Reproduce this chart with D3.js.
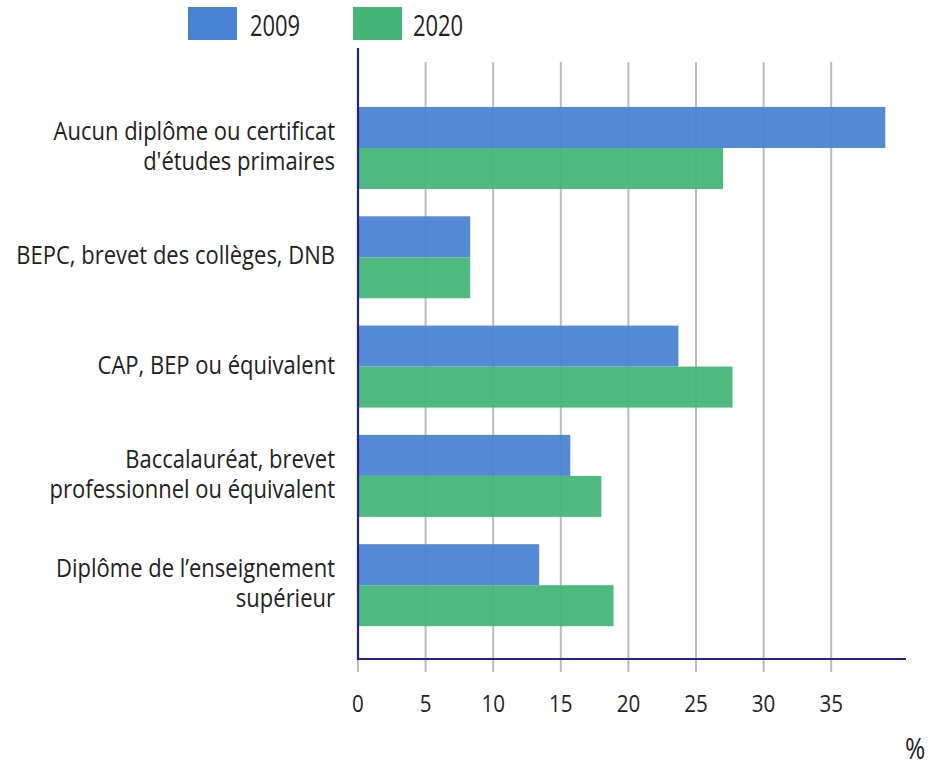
<!DOCTYPE html>
<html><head><meta charset="utf-8">
<script src="https://cdn.jsdelivr.net/npm/d3@7"></script>
<style>body{margin:0;background:#fff;}text{font-family:"Open Sans",sans-serif;}</style>
</head><body>
<svg id="c" width="933" height="766"></svg>
<script>
const categories = [
  ["Aucun diplôme ou certificat", "d'études primaires"],
  ["BEPC, brevet des collèges, DNB"],
  ["CAP, BEP ou équivalent"],
  ["Baccalauréat, brevet", "professionnel ou équivalent"],
  ["Diplôme de l’enseignement", "supérieur"]
];
const seriesNames = ["2009", "2020"];
const values2009 = [39.0, 8.3, 23.7, 15.7, 13.4];
const values2020 = [27.0, 8.3, 27.7, 18.0, 18.9];
const ticks = [0, 5, 10, 15, 20, 25, 30, 35];
const colors = ["#4a83d3", "#45b678"];

const svg = d3.select("#c");
const x0 = 358, x1 = 906, yTop = 48, yBot = 659;
const x = d3.scaleLinear().domain([0, 40.5]).range([x0, x0 + 40.5 * 13.52]);
const idx = d3.range(categories.length);
const y = d3.scaleBand().domain(idx).range([107, 107 + 109.3 * 4.75]).paddingInner(0.25).paddingOuter(0);
const ys = d3.scaleBand().domain(seriesNames).range([0, y.bandwidth()]);

// helper: horizontally condensed text
function ctext(px, py, str, size, sx, anchor) {
  return svg.append("text")
    .attr("transform", `translate(${px},${py}) scale(${sx},1)`)
    .attr("text-anchor", anchor).attr("font-size", size).attr("fill", "#222").text(str);
}

// grid
svg.append("g").selectAll("line").data(ticks.slice(1)).join("line")
  .attr("x1", d => x(d)).attr("x2", d => x(d))
  .attr("y1", 62).attr("y2", 672)
  .attr("stroke", "#bbb").attr("stroke-width", 2);
svg.append("line").attr("x1", x(0)).attr("x2", x(0)).attr("y1", yBot).attr("y2", 672)
  .attr("stroke", "#bbb").attr("stroke-width", 2);

// bars
const data = [values2009, values2020];
data.forEach((vals, si) => {
  svg.append("g").selectAll("rect").data(vals).join("rect")
    .attr("x", x(0))
    .attr("y", (d, i) => y(i) + ys(seriesNames[si]))
    .attr("width", d => x(d) - x(0))
    .attr("height", ys.bandwidth())
    .attr("fill", colors[si]).attr("fill-opacity", 0.95);
});

// axes lines
svg.append("line").attr("x1", x0).attr("x2", x0).attr("y1", yTop).attr("y2", yBot + 1)
  .attr("stroke", "#23238e").attr("stroke-width", 2.2);
svg.append("line").attr("x1", x0 - 1).attr("x2", x1).attr("y1", yBot).attr("y2", yBot)
  .attr("stroke", "#23238e").attr("stroke-width", 2.2);

// tick labels
ticks.forEach(t => ctext(x(t), 712, t, 24.5, 0.84, "middle"));
ctext(905, 759, "%", 30, 0.82, "start");

// category labels (one text element per category, lines as tspans)
categories.forEach((lines, i) => {
  const cy = y(i) + y.bandwidth() / 2;
  const lh = 30;
  const t = svg.append("text")
    .attr("transform", `translate(335,${cy + 7}) scale(0.894,1)`)
    .attr("text-anchor", "end").attr("font-size", 24.6).attr("fill", "#222");
  lines.forEach((l, k) => {
    t.append("tspan").attr("x", 0).attr("y", (k - (lines.length - 1) / 2) * lh).text(l);
  });
});

// legend
const lg = [[188, 250], [353, 413]];
seriesNames.forEach((n, i) => {
  svg.append("rect").attr("x", lg[i][0]).attr("y", 7).attr("width", 49).attr("height", 33)
    .attr("fill", colors[i]);
  ctext(lg[i][1], 36, n, 28.5, 0.77, "start");
});
</script>
</body></html>
